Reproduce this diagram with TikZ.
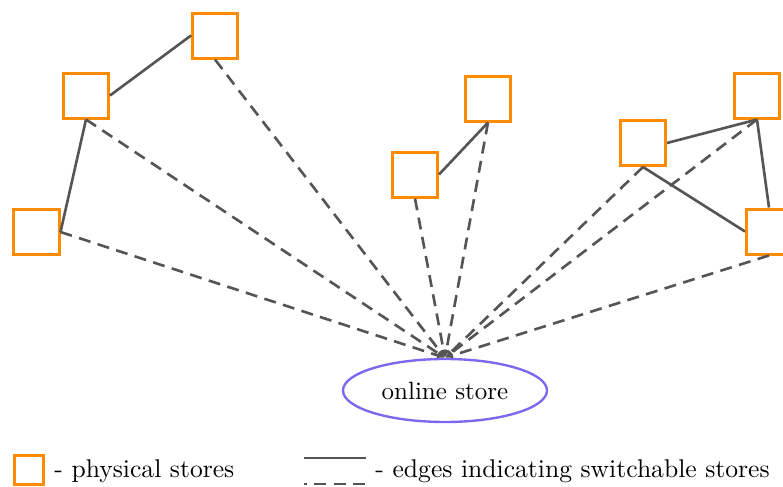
\documentclass[tikz,border=0pt]{standalone}
\usetikzlibrary{arrows.meta,shapes.geometric}
\definecolor{storeorange}{RGB}{255,140,0}
\definecolor{onlineblue}{RGB}{123,104,238}
\definecolor{edgegray}{RGB}{85,85,85}
\begin{document}
\begin{tikzpicture}[x=0.4pt,y=-0.4pt,
  store/.style={draw=storeorange,line width=1.2pt,minimum size=18pt,inner sep=0pt,fill=white},
  legstore/.style={draw=storeorange,line width=1.2pt,minimum size=11.6pt,inner sep=0pt},
  online/.style={draw=onlineblue,line width=0.95pt,ellipse,minimum width=81.6pt,minimum height=25.2pt,inner sep=0pt},
  switch/.style={draw=edgegray,line width=1.05pt},
  link/.style={draw=edgegray,line width=1.05pt,dash pattern=on 4.8pt off 3pt,-{Latex[length=3.2pt,width=2.4pt]}},
  legtext/.style={anchor=base west,inner sep=0pt,font=\fontsize{10.25}{12}\selectfont}]
\useasboundingbox (0,0) rectangle (783,487);
\clip (0,0) rectangle (783,487);
\node[online] (O) at (445,390.5) {online store};
\node[store] (A) at (86,95.5) {};
\node[store] (B) at (215,35.5) {};
\node[store] (C) at (36.5,232) {};
\node[store] (D) at (415,174.5) {};
\node[store] (E) at (488,98.5) {};
\node[store] (F) at (643,143) {};
\node[store] (G) at (757,95.5) {};
\node[store] (H) at (769,231.5) {};
\draw[switch] (A.east) -- (B.west);
\draw[switch] (A.south) -- (C.east);
\draw[switch] (D.east) -- (E.south);
\draw[switch] (F.east) -- (G.south);
\draw[switch] (F.south) -- (H.west);
\draw[switch] (G.south) -- (H.north);
\foreach \s/\a in {A/south,B/south,C/east,D/south,E/south,F/south,G/south,H/south}
  \draw[link] (\s.\a) -- (O.north);
% legend
\node[legstore] (L) at (29,470) {};
\node[legtext] (Lt) at (54,477) {- physical stores};
\coordinate (s1) at (304,458);
\coordinate (s2) at (366,458);
\coordinate (d1) at (304,484);
\coordinate (d2) at (366,484);
\draw[switch] (s1) -- (s2);
\draw[draw=edgegray,line width=1.05pt,dash pattern=on 4.8pt off 3pt,dash phase=3.6pt] (d1) -- (d2);
\node[legtext] (Et) at (375,477) {- edges indicating switchable stores};
\end{tikzpicture}
\end{document}
